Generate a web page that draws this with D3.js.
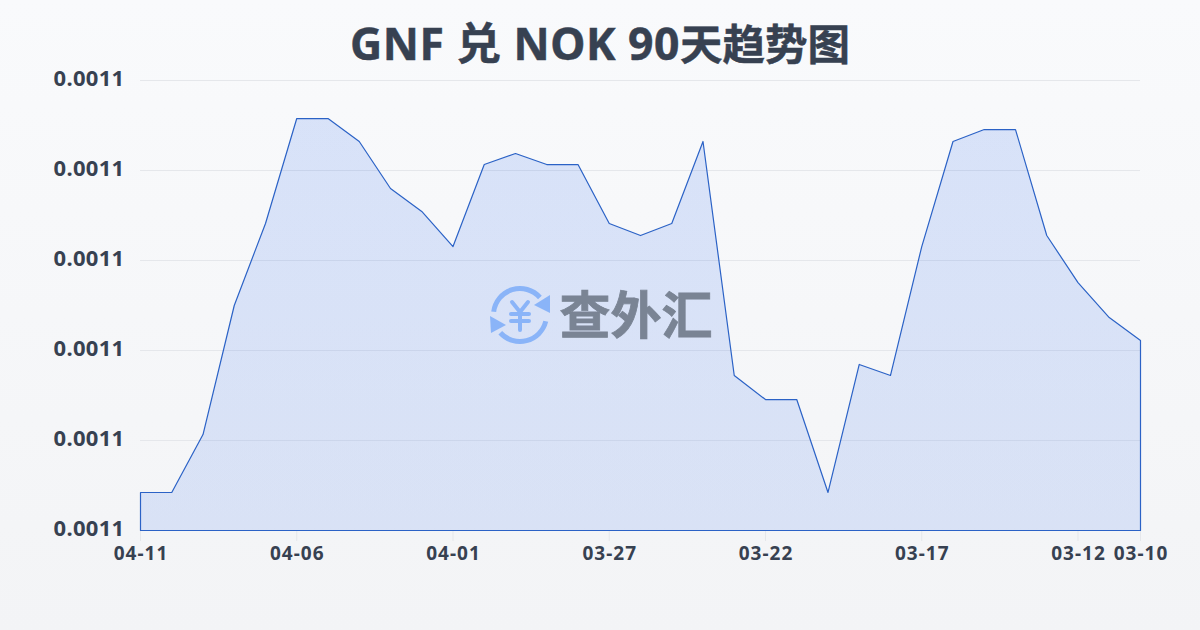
<!DOCTYPE html>
<html><head><meta charset="utf-8">
<script src="https://cdn.jsdelivr.net/npm/d3@7/dist/d3.min.js"></script>
<style>html,body{margin:0;padding:0;background:#f9fafb}svg{display:block}text{font-family:"Noto Sans","Noto Sans CJK SC",sans-serif}</style>
</head><body><svg id="c" width="1200" height="630"></svg>
<script>
const titleLatin = "GNF 兑 NOK 90";
const titleCjk = "天趋势图";
const dates = ["04-11","04-10","04-09","04-08","04-07","04-06","04-05","04-04","04-03","04-02","04-01","03-31","03-30","03-29","03-28","03-27","03-26","03-25","03-24","03-23","03-22","03-21","03-20","03-19","03-18","03-17","03-16","03-15","03-14","03-13","03-12","03-11","03-10"];
const rates = [0.00110338,0.00110338,0.00110853,0.00112000,0.00112729,0.00113662,0.00113662,0.00113458,0.00113040,0.00112836,0.00112524,0.00113253,0.00113351,0.00113253,0.00113253,0.00112729,0.00112622,0.00112729,0.00113458,0.00111378,0.00111164,0.00111164,0.00110338,0.00111476,0.00111378,0.00112524,0.00113458,0.00113564,0.00113564,0.00112622,0.00112204,0.00111893,0.00111689];
const yTicks = [0.0011,0.001108,0.001116,0.001124,0.001132,0.00114];
const xTickLabels = ["04-11","04-06","04-01","03-27","03-22","03-17","03-12","03-10"];

const svg = d3.select("#c");
const defs = svg.append("defs");
const bg = defs.append("linearGradient").attr("id","bg").attr("x1",0).attr("y1",0).attr("x2",0).attr("y2",1);
bg.append("stop").attr("offset","0%").attr("stop-color","#f9fafc");
bg.append("stop").attr("offset","100%").attr("stop-color","#f3f4f6");
svg.append("rect").attr("width",1200).attr("height",630).attr("fill","url(#bg)");

const x = d3.scalePoint().domain(dates).range([140.5,1140.5]);
const y = d3.scaleLinear().domain([0.0011,0.00114]).range([530.5,80.5]);

svg.append("g").selectAll("line").data(yTicks.slice(1)).join("line")
  .attr("x1",140).attr("x2",1140).attr("y1",d=>y(d)).attr("y2",d=>y(d))
  .attr("stroke","#e5e7eb").attr("stroke-width",1);

svg.append("g").selectAll("line").data(xTickLabels).join("line")
  .attr("x1",d=>x(d)).attr("x2",d=>x(d)).attr("y1",530).attr("y2",541)
  .attr("stroke","#e5e7eb").attr("stroke-width",1);

const fillGrad = defs.append("linearGradient").attr("id","af").attr("x1",0).attr("y1",0).attr("x2",0).attr("y2",1);
fillGrad.append("stop").attr("offset","0%").attr("stop-color","#2563eb").attr("stop-opacity",0.15);
fillGrad.append("stop").attr("offset","100%").attr("stop-color","#2563eb").attr("stop-opacity",0.13);

const area = d3.area().x((d,i)=>x(dates[i])).y0(y(0.0011)).y1(d=>y(d));
svg.append("path").datum(rates).attr("d",area)
  .attr("fill","url(#af)")
  .attr("stroke","#2b62c6").attr("stroke-width",1.2).attr("stroke-linejoin","round");

svg.append("g").selectAll("text").data(yTicks).join("text")
  .attr("x",124.5).attr("y",d=>y(d)+5.5).attr("text-anchor","end")
  .attr("font-size",22).attr("font-weight",700).attr("fill","#374151").attr("letter-spacing",0.3)
  .text(d=>d.toFixed(4));

svg.append("g").selectAll("text").data(xTickLabels).join("text")
  .attr("x",d=>x(d)+0.5).attr("y",559.5).attr("text-anchor","middle")
  .attr("font-size",19).attr("font-weight",700).attr("fill","#374151").attr("letter-spacing",1)
  .text(d=>d);

const title = svg.append("text").attr("x",600).attr("y",60).attr("text-anchor","middle")
  .attr("font-weight",700).attr("fill","#374151").attr("stroke","#374151").attr("stroke-width",0.5);
title.append("tspan").attr("font-size",44.5).attr("letter-spacing",0.5).text(titleLatin);
title.append("tspan").attr("font-size",42.5).text(titleCjk);

const wm = svg.append("g").attr("transform","translate(520,315)");
const blue = "#8ab4f8";
wm.append("path").attr("d",d3.arc()({innerRadius:24,outerRadius:29,startAngle:-1.45,endAngle:0.85})).attr("fill",blue);
wm.append("path").attr("d",d3.arc()({innerRadius:24,outerRadius:29,startAngle:1.81,endAngle:3.98})).attr("fill",blue);
wm.append("path").attr("d","M30 -20 L30 -2 L14 -10 Z").attr("fill",blue);
wm.append("path").attr("d","M-30 1 L-29 18 L-14 10 Z").attr("fill",blue);
wm.append("path").attr("d","M-8 -13 L0 -3 L8 -13 M-9 -1 H9 M-9 6 H9 M0 -3 V15")
  .attr("fill","none").attr("stroke",blue).attr("stroke-width",4).attr("stroke-linecap","round");
svg.append("text").attr("x",636).attr("y",334).attr("text-anchor","middle")
  .attr("font-size",51).attr("font-weight",700).attr("fill","#7a8494").attr("stroke","#7a8494").attr("stroke-width",0.8).text("查外汇");
</script></body></html>
